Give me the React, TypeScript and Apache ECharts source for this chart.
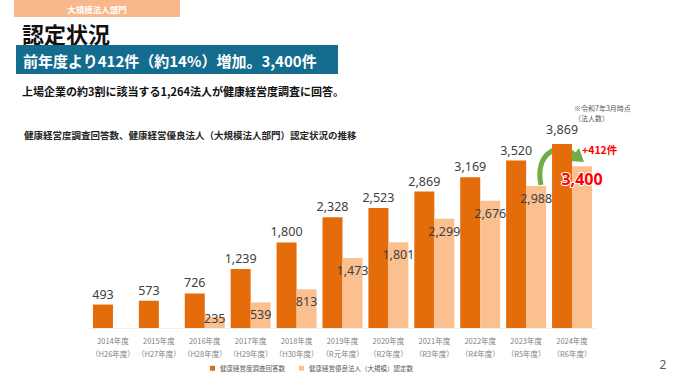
import React, { useEffect, useRef } from "react";
import * as echarts from "echarts";

const categories = [
  "2014年度\n（H26年度）",
  "2015年度\n（H27年度）",
  "2016年度\n（H28年度）",
  "2017年度\n（H29年度）",
  "2018年度\n（H30年度）",
  "2019年度\n（R元年度）",
  "2020年度\n（R2年度）",
  "2021年度\n（R3年度）",
  "2022年度\n（R4年度）",
  "2023年度\n（R5年度）",
  "2024年度\n（R6年度）",
];
const surveyResponses = [493, 573, 726, 1239, 1800, 2328, 2523, 2869, 3169, 3520, 3869];
const certified: (number | null)[] = [null, null, 235, 539, 813, 1473, 1801, 2299, 2676, 2988, 3400];
const seriesNames = ["健康経営度調査回答数", "健康経営優良法人（大規模）認定数"];

const JP = '"Noto Sans CJK JP", "Noto Sans", sans-serif';
const DARK = "#E46C0A";
const LIGHT = "#FAC090";

export default function App() {
  const ref = useRef<HTMLDivElement>(null);
  useEffect(() => {
    if (!ref.current) return;
    const chart = echarts.init(ref.current, undefined, { renderer: "svg" });
    const darkData = surveyResponses.map((v, i) =>
      i === surveyResponses.length - 1 ? { value: v, label: { distance: 8 } } : v
    );
    const lightData = certified.map((v, i) => {
      if (v === null) return v;
      if (i === certified.length - 1)
        return {
          value: v,
          label: {
            color: "#FF0000",
            fontSize: 16,
            fontWeight: "bold",
            textBorderColor: "#ffffff",
            textBorderWidth: 2,
            distance: 5,
          },
        };
      if (v < 400) return { value: v, label: { position: "insideBottom", distance: 3 } };
      return v;
    });
    chart.setOption({
      animation: false,
      textStyle: { fontFamily: JP },
      grid: { left: 90, right: 79, top: 114, bottom: 47, containLabel: false },
      legend: {
        top: 360,
        left: 205,
        itemWidth: 5,
        itemHeight: 5,
        itemGap: 14,
        icon: "rect",
        textStyle: { fontSize: 6.5, color: "#595959", fontFamily: JP },
        data: seriesNames,
      },
      xAxis: {
        type: "category",
        data: categories,
        axisTick: { show: false },
        axisLine: { show: true, lineStyle: { color: "#eeeeee" } },
        axisLabel: {
          interval: 0,
          fontSize: 7.5,
          color: "#7f7f7f",
          lineHeight: 13,
          margin: 6,
          fontFamily: JP,
        },
      },
      yAxis: {
        type: "value",
        min: 0,
        max: 4500,
        show: false,
        splitLine: { show: false },
      },
      series: [
        {
          name: seriesNames[0],
          type: "bar",
          data: darkData,
          barWidth: 20,
          barGap: "0%",
          itemStyle: { color: DARK },
          label: {
            show: true,
            position: "top",
            distance: 4,
            fontSize: 12.5,
            color: "#404040",
            fontFamily: '"Noto Sans", sans-serif',
            formatter: (p: any) => Number(p.value).toLocaleString("en-US"),
          },
        },
        {
          name: seriesNames[1],
          type: "bar",
          data: lightData,
          barWidth: 20,
          itemStyle: { color: LIGHT },
          label: {
            show: true,
            position: "insideTop",
            distance: 6,
            fontSize: 12.5,
            color: "#404040",
            fontFamily: '"Noto Sans", sans-serif',
            formatter: (p: any) => Number(p.value).toLocaleString("en-US"),
          },
        },
      ],
      graphic: [
        {
          type: "rect",
          shape: { x: 14, y: 0, width: 166, height: 17 },
          style: { fill: "#F8B88B" },
        },
        {
          type: "text",
          x: 97,
          y: 9,
          style: {
            text: "大規模法人部門",
            fill: "#ffffff",
            fontSize: 8.5,
            fontWeight: "bold",
            fontFamily: JP,
            align: "center",
            verticalAlign: "middle",
          },
        },
        {
          type: "text",
          x: 22,
          y: 33,
          style: {
            text: "認定状況",
            fill: "#111111",
            fontSize: 22,
            fontWeight: "bold",
            fontFamily: JP,
            verticalAlign: "middle",
          },
        },
        {
          type: "rect",
          shape: { x: 16, y: 45, width: 322, height: 29 },
          style: { fill: "#146C8F" },
        },
        {
          type: "text",
          x: 23,
          y: 60,
          style: {
            text: "前年度より412件（約14%）増加。3,400件",
            fill: "#ffffff",
            fontSize: 15,
            fontWeight: "bold",
            fontFamily: JP,
            verticalAlign: "middle",
          },
        },
        {
          type: "text",
          x: 22,
          y: 91,
          style: {
            text: "上場企業の約3割に該当する1,264法人が健康経営度調査に回答。",
            fill: "#111111",
            fontSize: 11,
            fontWeight: "bold",
            fontFamily: JP,
            verticalAlign: "middle",
          },
        },
        {
          type: "text",
          x: 24,
          y: 135,
          style: {
            text: "健康経営度調査回答数、健康経営優良法人（大規模法人部門）認定状況の推移",
            fill: "#262626",
            fontSize: 9.5,
            fontWeight: "bold",
            fontFamily: JP,
            verticalAlign: "middle",
          },
        },
        {
          type: "text",
          x: 574,
          y: 113,
          style: {
            text: "※令和7年3月時点\n（法人数）",
            fill: "#595959",
            fontSize: 7,
            lineHeight: 10,
            fontFamily: JP,
            verticalAlign: "middle",
          },
        },
        {
          type: "bezierCurve",
          shape: { x1: 541, y1: 185, cpx1: 534, cpy1: 152, cpx2: 560, cpy2: 141, x2: 575, y2: 155 },
          style: { stroke: "#70AD47", lineWidth: 5, fill: "none" },
        },
        {
          type: "polygon",
          shape: { points: [[584, 162], [569, 161], [579, 148]] },
          style: { fill: "#70AD47" },
        },
        {
          type: "text",
          x: 582,
          y: 149,
          style: {
            text: "+412件",
            fill: "#FF0000",
            fontSize: 10.5,
            fontWeight: "bold",
            fontFamily: JP,
            verticalAlign: "middle",
          },
        },
        {
          type: "text",
          x: 663,
          y: 364,
          style: {
            text: "2",
            fill: "#595959",
            fontSize: 12,
            fontFamily: '"Noto Sans", sans-serif',
            align: "center",
            verticalAlign: "middle",
          },
        },
      ],
    });
    return () => chart.dispose();
  }, []);
  return (
    <div
      ref={ref}
      style={{ position: "fixed", left: 0, top: 0, width: 674, height: 375, background: "#ffffff" }}
    />
  );
}
